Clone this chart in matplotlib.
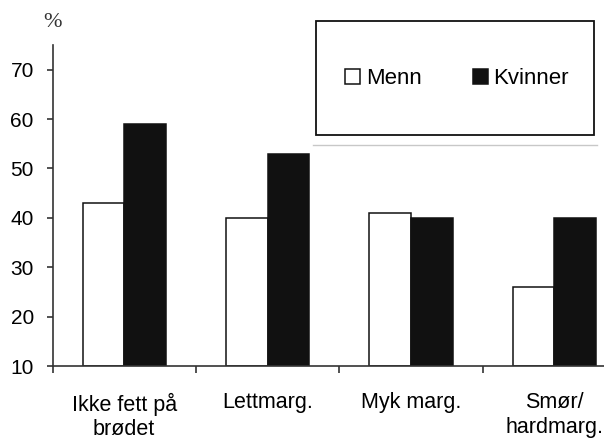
import matplotlib
matplotlib.use("Agg")
import matplotlib.pyplot as plt
from matplotlib.patches import Rectangle
from matplotlib.lines import Line2D
import numpy as np

plt.rcParams["font.family"] = ["Liberation Sans", "DejaVu Sans"]

kategorier = ["Ikke fett på\nbrødet", "Lettmarg.", "Myk marg.", "Smør/\nhardmarg."]
menn = [43, 40, 41, 26]
kvinner = [59, 53, 40, 40]
y_ticks = [10, 20, 30, 40, 50, 60, 70]

W, H = 604, 441
fig = plt.figure(figsize=(W / 100, H / 100), dpi=100)
# aksen går litt ut over høyre kant, slik at siste gruppe blir kuttet
ax = fig.add_axes([52.5 / W, 1 - 366 / H, (626 - 52.5) / W, (366 - 45) / H])

x = np.arange(len(kategorier))
bredde = 0.29
b1 = ax.bar(x - bredde / 2, np.array(menn) - 10, bredde, bottom=10, color="white",
            edgecolor="#111111", linewidth=1.1, label="Menn")
b2 = ax.bar(x + bredde / 2, np.array(kvinner) - 10, bredde, bottom=10, color="#111111",
            edgecolor="#111111", linewidth=1.1, label="Kvinner")

ax.set_xlim(-0.5, 3.5)
ax.set_ylim(10, 75)
ax.set_yticks(y_ticks)
ax.tick_params(axis="y", direction="out", length=4.5, width=1.2, pad=9,
               labelsize=15, color="#333333")

# skillestreker mellom gruppene, etiketter midt i gruppene
ax.set_xticks(np.arange(-0.5, 4, 1))
ax.set_xticklabels([])
ax.set_xticks(x, minor=True)
ax.set_xticklabels(kategorier, minor=True, fontsize=15.5, linespacing=1.2)
ax.tick_params(axis="x", which="major", direction="out", length=5, width=1.2, color="#333333")
ax.tick_params(axis="x", which="minor", length=0, pad=19)

for s in ["top", "right"]:
    ax.spines[s].set_visible(False)
for s in ["left", "bottom"]:
    ax.spines[s].set_color("#333333")
    ax.spines[s].set_linewidth(1.2)

fig.text(52.5 / W, 1 - 22.5 / H, "%", family="Liberation Serif", fontsize=16,
         color="#333333", ha="center", va="center")

# tegnforklaring i egen ramme
ramme = Rectangle((316 / W, 1 - 135 / H), (594 - 316) / W, (135 - 21) / H,
                  transform=fig.transFigure, fill=False, edgecolor="#111111", linewidth=1.3)
fig.patches.append(ramme)
fig.lines.append(Line2D([313 / W, 597 / W], [1 - 145 / H, 1 - 145 / H],
                        transform=fig.transFigure, color="#c8c8c8", linewidth=1))

fig.legend(handles=[b1, b2], labels=["Menn", "Kvinner"], ncol=2, frameon=False,
           loc="center", bbox_to_anchor=(457 / W, 1 - 78.5 / H), fontsize=16,
           handlelength=0.68, handleheight=0.68, handletextpad=0.25,
           columnspacing=2.3, borderpad=0)

fig.savefig("out.png", dpi=100)
